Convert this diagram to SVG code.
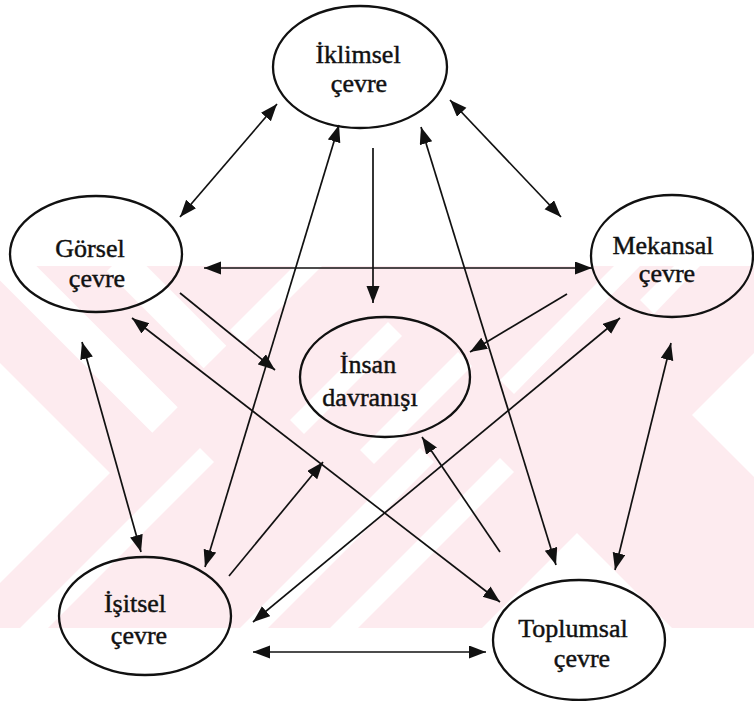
<svg xmlns="http://www.w3.org/2000/svg" width="754" height="701" viewBox="0 0 754 701">
<defs>
<style>
.wm{fill:#fdebef}
.wh{fill:#ffffff}
.node ellipse{fill:none;stroke:#111;stroke-width:2.3}
.node text{font-family:"Liberation Serif","Times New Roman",serif;font-size:26px;fill:#111;text-anchor:middle;stroke:#111;stroke-width:0.45}
.edge{stroke:#111;stroke-width:1.7;fill:none}
.one{marker-end:url(#ah)}
.two{marker-end:url(#ah);marker-start:url(#ahs)}
</style>
<marker id="ah" markerUnits="userSpaceOnUse" markerWidth="18" markerHeight="14" refX="17" refY="6.5" orient="auto"><path d="M0,0 L17,6.5 L0,13 z" fill="#111"/></marker>
<marker id="ahs" markerUnits="userSpaceOnUse" markerWidth="18" markerHeight="14" refX="17" refY="6.5" orient="auto-start-reverse"><path d="M0,0 L17,6.5 L0,13 z" fill="#111"/></marker>
<clipPath id="band"><rect x="0" y="266" width="754" height="362"/></clipPath>
</defs>
<rect width="754" height="701" fill="#ffffff"/>
<g id="watermark" clip-path="url(#band)">
<rect class="wm" x="0" y="266" width="754" height="362"/>
<polygon class="wh" points="17.7,247.3 177.7,407.3 152.3,432.7 -7.7,272.7"/>
<polygon class="wh" points="129.3,248.7 226.3,345.7 203.7,368.3 106.7,271.3"/>
<polygon class="wh" points="0,363 110,473 0,583"/>
<polygon class="wh" points="692,415 760,347 760,483"/>
<polygon class="wh" points="577,533 482,628 672,628"/>
<polygon class="wh" points="290,420 388,322 402,336 304,434"/>
<polygon class="wh" points="360,450 458,352 472,366 374,464"/>
<polygon class="wh" points="240,628 420,448 434,462 268,628"/>
<polygon class="wh" points="330,628 500,458 514,472 358,628"/>
<polygon class="wh" points="230,330 294,266 322,266 244,344"/>
<polygon class="wh" points="500,380 614,266 640,266 514,394"/>
<polygon class="wh" points="640,300 674,266 700,266 654,314"/>
<polygon class="wh" points="20,628 200,448 214,462 48,628"/>
</g>
<g id="connectors">
<line class="edge two" x1="277" y1="104" x2="180" y2="217"/>
<line class="edge two" x1="339" y1="125" x2="205" y2="567"/>
<line class="edge one" x1="373" y1="148" x2="373" y2="303"/>
<line class="edge two" x1="421" y1="127" x2="556" y2="565"/>
<line class="edge two" x1="450" y1="100" x2="561" y2="217"/>
<line class="edge two" x1="204" y1="268" x2="592" y2="268"/>
<line class="edge one" x1="180" y1="293" x2="275" y2="370"/>
<line class="edge one" x1="567" y1="294" x2="470" y2="352"/>
<line class="edge two" x1="132" y1="318" x2="500" y2="602"/>
<line class="edge two" x1="82" y1="342" x2="141" y2="552"/>
<line class="edge one" x1="229" y1="576" x2="323" y2="462"/>
<line class="edge two" x1="620" y1="318" x2="253" y2="622"/>
<line class="edge one" x1="500" y1="552" x2="422" y2="437"/>
<line class="edge two" x1="671" y1="343" x2="615" y2="570"/>
<line class="edge two" x1="253" y1="652" x2="486" y2="652"/>
</g>
<g id="iklimsel" class="node"><ellipse cx="360" cy="67" rx="87" ry="61"/><text x="358" y="63">İklimsel</text><text x="359" y="92">çevre</text></g>
<g id="gorsel" class="node"><ellipse cx="96" cy="254" rx="86" ry="58"/><text x="90" y="257">Görsel</text><text x="97" y="287">çevre</text></g>
<g id="mekansal" class="node"><ellipse cx="672" cy="256" rx="81" ry="61"/><text x="663" y="254">Mekansal</text><text x="667" y="282">çevre</text></g>
<g id="insan" class="node"><ellipse cx="385" cy="377" rx="85" ry="60"/><text x="368" y="373">İnsan</text><text x="370" y="406">davranışı</text></g>
<g id="isitsel" class="node"><ellipse cx="145" cy="616" rx="86" ry="59"/><text x="135" y="612">İşitsel</text><text x="139" y="644">çevre</text></g>
<g id="toplumsal" class="node"><ellipse cx="579" cy="640" rx="86" ry="60"/><text x="573" y="637">Toplumsal</text><text x="582" y="667">çevre</text></g>
</svg>
